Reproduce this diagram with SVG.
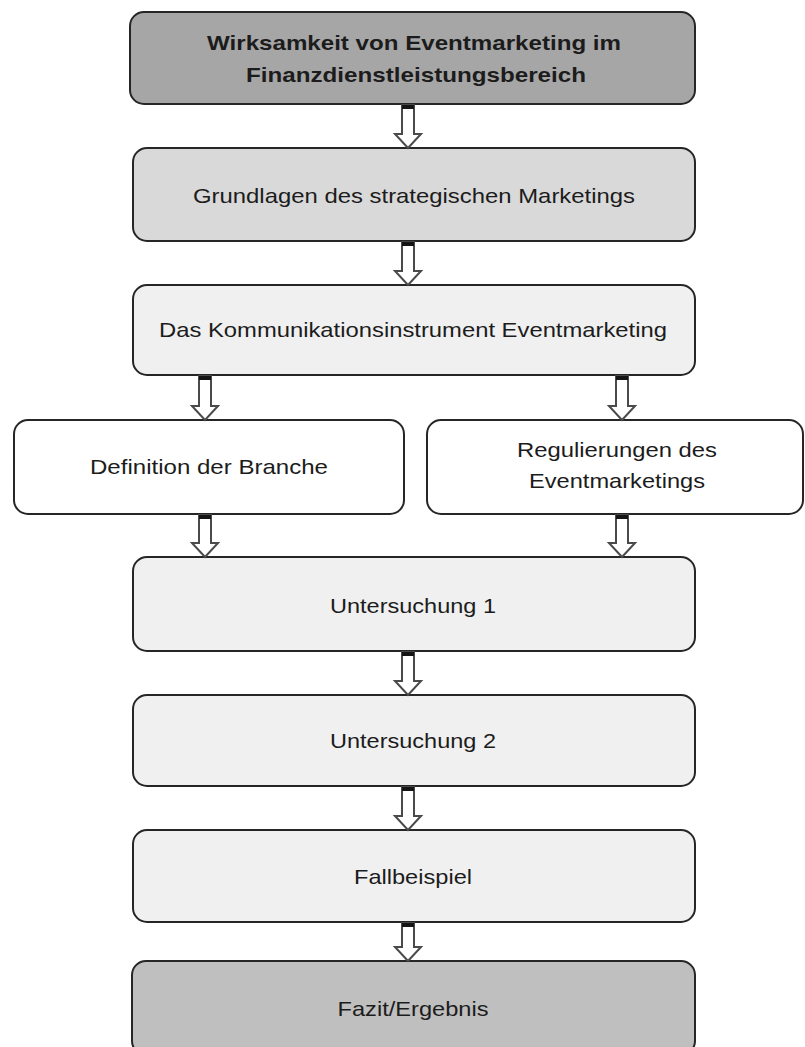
<svg xmlns="http://www.w3.org/2000/svg" width="805" height="1047" viewBox="0 0 805 1047">
<style>
.box{stroke:#262626;stroke-width:2}
.t{font-family:"Liberation Sans",Arial,sans-serif;font-size:21px;fill:#1c1c1c;text-anchor:middle}
.b{font-weight:bold}
.arr{fill:#ffffff;stroke:#4a4a4a;stroke-width:2;stroke-linejoin:miter}
.cap{fill:#151515}
</style>
<rect width="805" height="1047" fill="#ffffff"/>
<g id="n1">
<rect class="box" x="130" y="12" width="565" height="92" rx="14" fill="#a6a6a6"/>
<text class="t b" x="414" y="50" textLength="414" lengthAdjust="spacingAndGlyphs">Wirksamkeit von Eventmarketing im</text>
<text class="t b" x="416" y="82" textLength="340" lengthAdjust="spacingAndGlyphs">Finanzdienstleistungsbereich</text>
</g>
<g id="n2">
<rect class="box" x="133" y="148" width="562" height="93" rx="14" fill="#d9d9d9"/>
<text class="t" x="414" y="203" textLength="442" lengthAdjust="spacingAndGlyphs">Grundlagen des strategischen Marketings</text>
</g>
<g id="n3">
<rect class="box" x="133" y="285" width="562" height="90" rx="14" fill="#f0f0f0"/>
<text class="t" x="413" y="337" textLength="508" lengthAdjust="spacingAndGlyphs">Das Kommunikationsinstrument Eventmarketing</text>
</g>
<g id="n4">
<rect class="box" x="14" y="420" width="390" height="94" rx="14" fill="#ffffff"/>
<text class="t" x="209" y="474" textLength="238" lengthAdjust="spacingAndGlyphs">Definition der Branche</text>
</g>
<g id="n5">
<rect class="box" x="427" y="420" width="376" height="94" rx="14" fill="#ffffff"/>
<text class="t" x="617" y="457" textLength="200" lengthAdjust="spacingAndGlyphs">Regulierungen des</text>
<text class="t" x="617" y="488" textLength="176" lengthAdjust="spacingAndGlyphs">Eventmarketings</text>
</g>
<g id="n6">
<rect class="box" x="133" y="557" width="562" height="94" rx="14" fill="#f0f0f0"/>
<text class="t" x="413" y="613" textLength="166" lengthAdjust="spacingAndGlyphs">Untersuchung 1</text>
</g>
<g id="n7">
<rect class="box" x="133" y="695" width="562" height="91" rx="14" fill="#f0f0f0"/>
<text class="t" x="413" y="748" textLength="166" lengthAdjust="spacingAndGlyphs">Untersuchung 2</text>
</g>
<g id="n8">
<rect class="box" x="133" y="830" width="562" height="92" rx="14" fill="#f0f0f0"/>
<text class="t" x="413" y="884" textLength="118" lengthAdjust="spacingAndGlyphs">Fallbeispiel</text>
</g>
<g id="n9">
<rect class="box" x="132" y="961" width="563" height="94" rx="14" fill="#bfbfbf"/>
<text class="t" x="413" y="1016" textLength="151" lengthAdjust="spacingAndGlyphs">Fazit/Ergebnis</text>
</g>
<g id="connectors">
<path class="arr" d="M402 105 H414 V134 H421 L408 148 L395 134 H402 Z"/>
<rect class="cap" x="402" y="105" width="12" height="4"/>
<path class="arr" d="M402 242 H414 V271 H421 L408 285 L395 271 H402 Z"/>
<rect class="cap" x="402" y="242" width="12" height="4"/>
<path class="arr" d="M199 376 H211 V406 H218 L205 420 L192 406 H199 Z"/>
<rect class="cap" x="199" y="376" width="12" height="4"/>
<path class="arr" d="M616 376 H628 V406 H635 L622 420 L609 406 H616 Z"/>
<rect class="cap" x="616" y="376" width="12" height="4"/>
<path class="arr" d="M199 515 H211 V543 H218 L205 557 L192 543 H199 Z"/>
<rect class="cap" x="199" y="515" width="12" height="4"/>
<path class="arr" d="M616 515 H628 V543 H635 L622 557 L609 543 H616 Z"/>
<rect class="cap" x="616" y="515" width="12" height="4"/>
<path class="arr" d="M402 652 H414 V681 H421 L408 695 L395 681 H402 Z"/>
<rect class="cap" x="402" y="652" width="12" height="4"/>
<path class="arr" d="M402 787 H414 V816 H421 L408 830 L395 816 H402 Z"/>
<rect class="cap" x="402" y="787" width="12" height="4"/>
<path class="arr" d="M402 923 H414 V947 H421 L408 961 L395 947 H402 Z"/>
<rect class="cap" x="402" y="923" width="12" height="4"/>
</g>
</svg>
